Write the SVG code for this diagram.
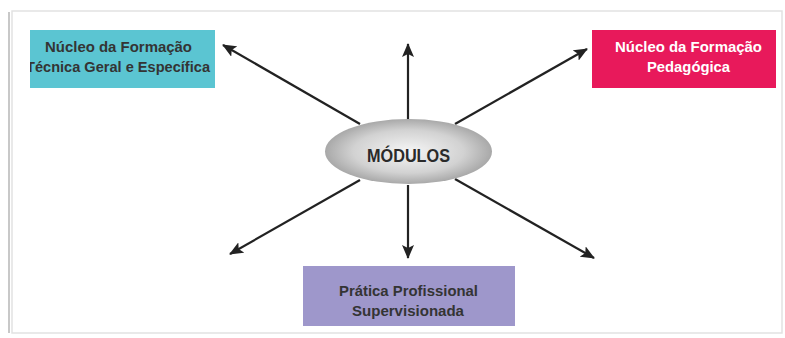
<svg xmlns="http://www.w3.org/2000/svg" width="785" height="338" viewBox="0 0 785 338">
  <defs>
    <style>
      .lbl { font-family: "Liberation Sans", Arial, sans-serif; font-weight: bold; font-size: 15.5px; text-anchor: middle; }
      .dark { fill: #343434; }
      .light { fill: #ffffff; }
      .conn { stroke: #222222; stroke-width: 2.2; fill: none; marker-end: url(#ah); }
    </style>
    <marker id="ah" viewBox="0 0 14 12" refX="13" refY="6" markerWidth="14" markerHeight="12" markerUnits="userSpaceOnUse" orient="auto">
      <path d="M0,0 L14,6 L0,12 L3,6 Z" fill="#222222"/>
    </marker>
    <radialGradient id="eg" cx="0.5" cy="0.5" r="0.6">
      <stop offset="0" stop-color="#f6f6f6"/>
      <stop offset="0.55" stop-color="#d2d2d2"/>
      <stop offset="1" stop-color="#909090"/>
    </radialGradient>
    <clipPath id="cp1"><rect x="30" y="30" width="185" height="58"/></clipPath>
  </defs>
  <rect x="0" y="0" width="785" height="338" fill="#ffffff"/>
  <g id="frame">
    <rect x="12" y="11" width="770" height="322" fill="none" stroke="#e2e2e2" stroke-width="1.5"/>
    <line x1="9" y1="12" x2="9" y2="333" stroke="#c8c8c8" stroke-width="2"/>
  </g>
  <g id="connectors">
    <line class="conn" x1="408" y1="119" x2="408" y2="44"/>
    <line class="conn" x1="360" y1="124" x2="223" y2="45"/>
    <line class="conn" x1="455" y1="124" x2="587" y2="49"/>
    <line class="conn" x1="360" y1="180" x2="230" y2="254"/>
    <line class="conn" x1="455" y1="179" x2="594" y2="258"/>
    <line class="conn" x1="408" y1="185" x2="408" y2="258"/>
  </g>
  <g id="node-tecnica">
    <rect x="30" y="30" width="185" height="58" fill="#5bc5d2"/>
    <g clip-path="url(#cp1)">
      <text class="lbl dark" x="118.5" y="52" textLength="147" lengthAdjust="spacingAndGlyphs">Núcleo da Formação</text>
      <text class="lbl dark" x="118" y="72" textLength="184" lengthAdjust="spacingAndGlyphs">Técnica Geral e Específica</text>
    </g>
  </g>
  <g id="node-pedagogica">
    <rect x="592" y="30" width="184" height="58" fill="#e8195b"/>
    <text class="lbl light" x="688.5" y="52" textLength="147" lengthAdjust="spacingAndGlyphs">Núcleo da Formação</text>
    <text class="lbl light" x="688.5" y="72" textLength="83" lengthAdjust="spacingAndGlyphs">Pedagógica</text>
  </g>
  <g id="node-modulos">
    <ellipse cx="408.5" cy="151.5" rx="83.5" ry="32.5" fill="url(#eg)"/>
    <text class="lbl" x="408.5" y="162" fill="#2a2a2a" style="font-size:18px" textLength="83" lengthAdjust="spacingAndGlyphs">MÓDULOS</text>
  </g>
  <g id="node-pratica">
    <rect x="303" y="266" width="212" height="60" fill="#9e97cb"/>
    <text class="lbl dark" x="408.5" y="296" textLength="139" lengthAdjust="spacingAndGlyphs">Prática Profissional</text>
    <text class="lbl dark" x="408" y="316" textLength="112" lengthAdjust="spacingAndGlyphs">Supervisionada</text>
  </g>
</svg>
